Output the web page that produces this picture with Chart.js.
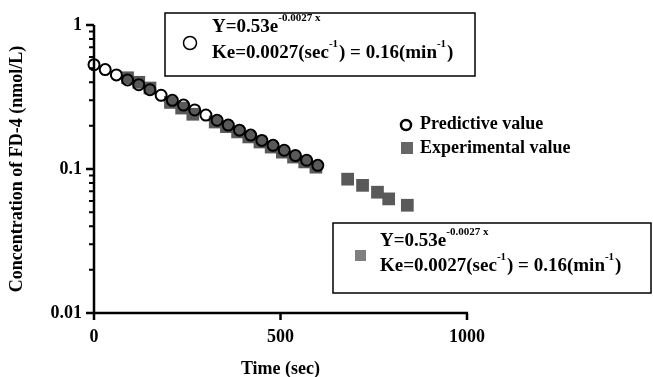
<!DOCTYPE html>
<html>
<head>
<meta charset="utf-8">
<script src="https://cdn.jsdelivr.net/npm/chart.js@4/dist/chart.umd.min.js"></script>
<style>
  html, body { margin: 0; padding: 0; background: #fff; }
</style>
</head>
<body>
<canvas id="chart" width="653" height="377"></canvas>
<script>
// data
const predTime = [0, 30, 60, 90, 120, 150, 180, 210, 240, 270, 300, 330, 360, 390, 420, 450, 480, 510, 540, 570, 600];
const predConc = [0.53, 0.49, 0.45, 0.415, 0.385, 0.355, 0.325, 0.30, 0.278, 0.257, 0.237, 0.218, 0.202, 0.186, 0.172, 0.158, 0.146, 0.135, 0.124, 0.115, 0.106];
const expTime = [90, 120, 150, 205, 235, 265, 325, 355, 385, 415, 445, 475, 505, 535, 565, 595, 680, 720, 760, 790, 840];
const expConc = [0.43, 0.40, 0.365, 0.29, 0.265, 0.24, 0.212, 0.197, 0.181, 0.167, 0.154, 0.142, 0.131, 0.121, 0.112, 0.103, 0.085, 0.077, 0.069, 0.062, 0.056];
const seriesNames = ['Predictive value', 'Experimental value'];

const xTicks = [0, 500, 1000];
const xLabels = ['0', '500', '1000'];
const yMajor = [0.01, 0.1, 1];
const yLabels = ['0.01', '0.1', '1'];
const yMinor = [0.02, 0.03, 0.04, 0.05, 0.06, 0.07, 0.08, 0.09, 0.2, 0.3, 0.4, 0.5, 0.6, 0.7, 0.8, 0.9];

const fitText = ['Y=0.53e', '-0.0027 x', 'Ke=0.0027(sec', '-1', ') = 0.16(min', '-1', ')'];

const FONT = 'Liberation Serif, Times New Roman, serif';
const EXP_COLOR = '#595959';

// draws a line of text, odd pieces as superscripts
function drawRich(ctx, pieces, x, y) {
    pieces.forEach((p, i) => {
        const sup = i % 2 === 1;
        ctx.font = 'bold ' + (sup ? 11 : 19) + 'px ' + FONT;
        ctx.fillText(p, x, sup ? y - 11 : y);
        x += ctx.measureText(p).width + (sup ? 1 : 0);
    });
}

const axesPlugin = {
    id: 'axes',
    beforeDatasetsDraw(chart) {
        const { ctx, scales: { x, y } } = chart;
        const x0 = x.getPixelForValue(0);
        const yb = y.getPixelForValue(yMajor[0]);
        const yt = y.getPixelForValue(1);
        ctx.save();
        ctx.strokeStyle = '#000';
        ctx.lineWidth = 2.5;
        ctx.beginPath();
        ctx.moveTo(x0, yt);
        ctx.lineTo(x0, yb + 7);
        ctx.moveTo(x0 - 1, yb);
        ctx.lineTo(x.getPixelForValue(1000) + 1, yb);
        xTicks.forEach(v => {
            const px = x.getPixelForValue(v);
            ctx.moveTo(px, yb);
            ctx.lineTo(px, yb + 7);
        });
        yMajor.forEach(v => {
            const py = y.getPixelForValue(v);
            ctx.moveTo(x0 - 8, py);
            ctx.lineTo(x0, py);
        });
        ctx.stroke();
        ctx.lineWidth = 2;
        ctx.beginPath();
        yMinor.forEach(v => {
            const py = y.getPixelForValue(v);
            ctx.moveTo(x0 - 5, py);
            ctx.lineTo(x0, py);
        });
        ctx.stroke();
        ctx.restore();
    },
    afterDraw(chart) {
        const ctx = chart.ctx;
        ctx.save();
        ctx.fillStyle = '#000';
        ctx.strokeStyle = '#000';
        ctx.textBaseline = 'alphabetic';

        // top equation box
        ctx.lineWidth = 1.5;
        ctx.strokeRect(165, 13, 310, 63);
        ctx.beginPath();
        ctx.arc(190, 43, 6.5, 0, Math.PI * 2);
        ctx.stroke();
        drawRich(ctx, fitText.slice(0, 2), 212, 32);
        drawRich(ctx, fitText.slice(2), 212, 58);

        // bottom equation box
        ctx.strokeRect(333, 223, 318, 70);
        ctx.fillStyle = '#7f7f7f';
        ctx.fillRect(355, 250, 11, 11);
        ctx.fillStyle = '#000';
        drawRich(ctx, fitText.slice(0, 2), 380, 246);
        drawRich(ctx, fitText.slice(2), 380, 271);

        // legend
        ctx.lineWidth = 2.5;
        ctx.beginPath();
        ctx.arc(406, 125, 5, 0, Math.PI * 2);
        ctx.stroke();
        ctx.fillStyle = '#666';
        ctx.fillRect(401, 142, 12, 12);
        ctx.fillStyle = '#000';
        ctx.font = 'bold 18px ' + FONT;
        ctx.textBaseline = 'middle';
        ctx.fillText(seriesNames[0], 420, 124);
        ctx.fillText(seriesNames[1], 420, 148);
        ctx.restore();
    }
};

new Chart(document.getElementById('chart').getContext('2d'), {
    type: 'scatter',
    data: {
        datasets: [{
            label: seriesNames[0],
            data: predTime.map((t, i) => ({ x: t, y: predConc[i] })),
            pointStyle: 'circle',
            pointRadius: 5.5,
            borderWidth: 2,
            borderColor: '#000',
            backgroundColor: 'rgba(255,255,255,0)',
            clip: false,
            order: 0
        }, {
            label: seriesNames[1],
            data: expTime.map((t, i) => ({ x: t, y: expConc[i] })),
            pointStyle: 'rect',
            pointRadius: 9,
            borderWidth: 0,
            backgroundColor: EXP_COLOR,
            clip: false,
            order: 1
        }]
    },
    options: {
        responsive: false,
        devicePixelRatio: 1,
        animation: false,
        layout: { padding: { left: 0, top: 25, right: 186, bottom: 0 } },
        plugins: {
            legend: { display: false },
            tooltip: { enabled: false }
        },
        scales: {
            x: {
                type: 'linear',
                min: 0,
                max: 1000,
                afterBuildTicks: s => { s.ticks = xTicks.map(v => ({ value: v })); },
                afterFit: s => { s.height = 64; },
                grid: { display: false, drawTicks: false },
                border: { display: false },
                ticks: {
                    color: '#000',
                    padding: 14,
                    maxRotation: 0,
                    font: { family: FONT, size: 18, weight: 'bold' },
                    callback: v => xLabels[xTicks.indexOf(v)]
                },
                title: {
                    display: true,
                    text: 'Time (sec)',
                    color: '#000',
                    padding: { top: 0, bottom: -3 },
                    font: { family: FONT, size: 18, weight: 'bold' }
                }
            },
            y: {
                type: 'logarithmic',
                min: 0.01,
                max: 1,
                afterBuildTicks: s => { s.ticks = yMajor.map(v => ({ value: v })); },
                afterFit: s => { s.width = 94; },
                grid: { display: false, drawTicks: false },
                border: { display: false },
                ticks: {
                    color: '#000',
                    padding: 12,
                    font: { family: FONT, size: 18, weight: 'bold' },
                    callback: v => yLabels[yMajor.findIndex(m => Math.abs(m - v) < 1e-9)]
                },
                title: {
                    display: true,
                    text: 'Concentration of FD-4 (nmol/L)',
                    color: '#000',
                    padding: { top: 7, bottom: 0 },
                    font: { family: FONT, size: 18, weight: 'bold' }
                }
            }
        }
    },
    plugins: [axesPlugin]
});
</script>
</body>
</html>
